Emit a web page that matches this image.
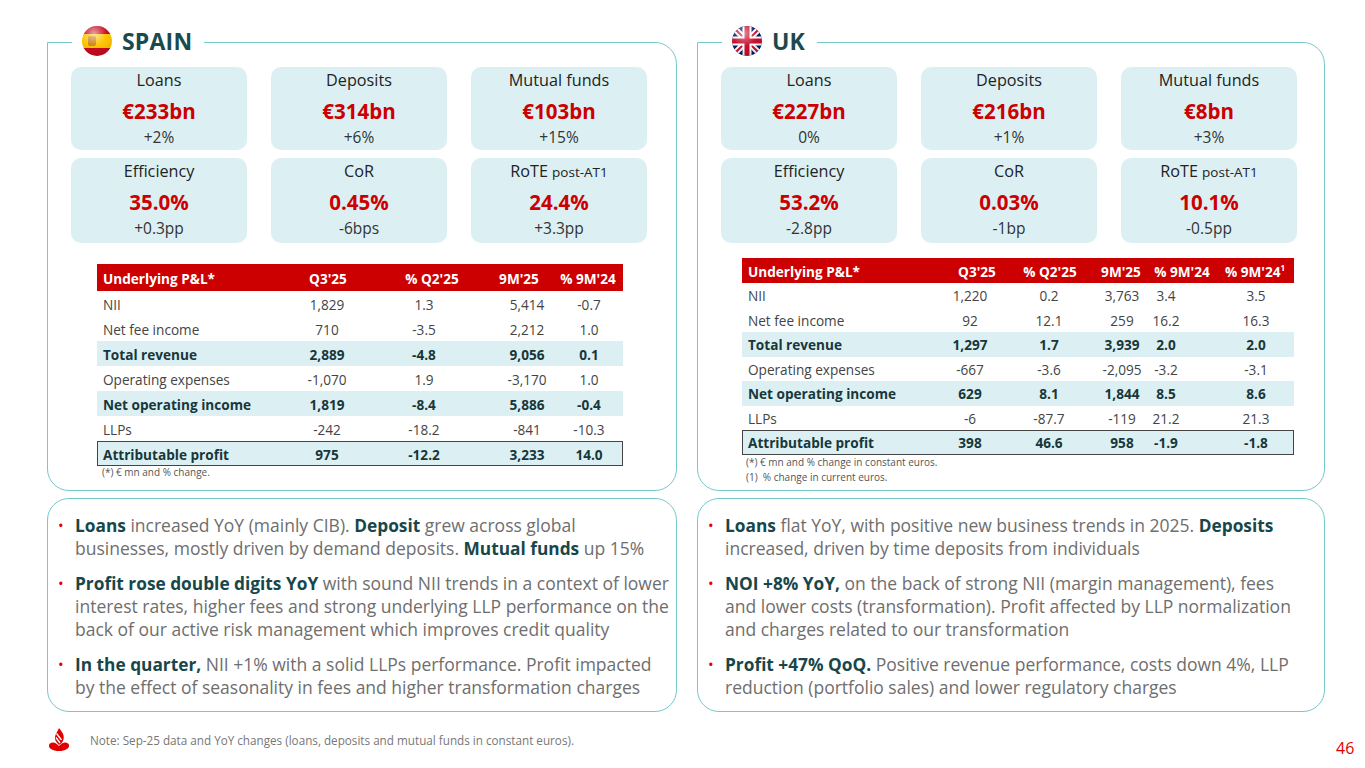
<!DOCTYPE html>
<html>
<head>
<meta charset="utf-8">
<script src="https://cdn.jsdelivr.net/npm/chart.js@4"></script>
<style>
  html, body { margin: 0; padding: 0; background: #fff; }
  body { width: 1365px; height: 768px; position: relative; overflow: hidden;
         font-family: "Open Sans", "Noto Sans", sans-serif; color: #222; }
  .abs { position: absolute; }
  .panel { position: absolute; border: 1.5px solid #74c9cc; box-sizing: border-box; }
  .title { position: absolute; background: #fff; height: 36px; display: flex; align-items: center;
           font-weight: 700; font-size: 23px; color: #1b4a4c; letter-spacing: 0.2px; }
  .flag { width: 30px; height: 30px; border-radius: 50%; margin: 0 10px 0 10px; position: relative; overflow: hidden; }
  .tile { position: absolute; background: #dcf0f3; border-radius: 10px; text-align: center; }
  .tile .lab { position: absolute; left: 0; right: 0; font-size: 16.2px; color: #222; }
  .tile .lab small { font-size: 13.5px; }
  .tile .val { position: absolute; left: 0; right: 0; font-size: 20.5px; font-weight: 700; color: #cc0000; }
  .tile .chg { position: absolute; left: 0; right: 0; font-size: 15.5px; color: #333; }
  .cell { position: absolute; font-size: 13.6px; white-space: nowrap; transform: translate(-50%, -50%); color: #333; }
  .cell.left { transform: translate(0, -50%); }
  .bullets { position: absolute; font-size: 17.5px; line-height: 23px; color: #6e6e6e; }
  .bullets p { margin: 0 0 12px 0; position: relative; padding-left: 17px; white-space: nowrap; }
  .bullets p::before { content: "•"; color: #e00000; position: absolute; left: 0; top: 0; font-size: 15px; }
  .bullets b { color: #17474a; font-weight: 700; font-size: 17.3px; }
  .foot { position: absolute; font-size: 10px; color: #555; }
</style>
</head>
<body>
<script>
// KPI tiles
const kpiLabels = ['Loans', 'Deposits', 'Mutual funds', 'Efficiency', 'CoR', 'RoTE <small>post-AT1</small>'];
const spainKpiValues = ['€233bn', '€314bn', '€103bn', '35.0%', '0.45%', '24.4%'];
const spainKpiChanges = ['+2%', '+6%', '+15%', '+0.3pp', '-6bps', '+3.3pp'];
const ukKpiValues = ['€227bn', '€216bn', '€8bn', '53.2%', '0.03%', '10.1%'];
const ukKpiChanges = ['0%', '+1%', '+3%', '-2.8pp', '-1bp', '-0.5pp'];

// P&L tables (€ mn, % change)
const plRows = ['NII', 'Net fee income', 'Total revenue', 'Operating expenses', 'Net operating income', 'LLPs', 'Attributable profit'];
const boldRows = [2, 4, 6];
const spainHeaders = ['Underlying P&L*', "Q3'25", "% Q2'25", "9M'25", "% 9M'24"];
const spainQ3 = [1829, 710, 2889, -1070, 1819, -242, 975];
const spainQoQ = [1.3, -3.5, -4.8, 1.9, -8.4, -18.2, -12.2];
const spain9M = [5414, 2212, 9056, -3170, 5886, -841, 3233];
const spainYoY = [-0.7, 1.0, 0.1, 1.0, -0.4, -10.3, 14.0];
const ukHeaders = ['Underlying P&L*', "Q3'25", "% Q2'25", "9M'25", "% 9M'24", "% 9M'24<sup style=\"font-size:8px\">1</sup>"];
const ukQ3 = [1220, 92, 1297, -667, 629, -6, 398];
const ukQoQ = [0.2, 12.1, 1.7, -3.6, 8.1, -87.7, 46.6];
const uk9M = [3763, 259, 3939, -2095, 1844, -119, 958];
const ukYoY = [3.4, 16.2, 2.0, -3.2, 8.5, 21.2, -1.9];
const ukYoYCur = [3.5, 16.3, 2.0, -3.1, 8.6, 21.3, -1.8];

// commentary
const spainBullets = [
  '<b>Loans</b> increased YoY (mainly CIB). <b>Deposit</b> grew across global<br>businesses, mostly driven by demand deposits. <b>Mutual funds</b> up 15%',
  '<b>Profit rose double digits YoY</b> with sound NII trends in a context of lower<br>interest rates, higher fees and strong underlying LLP performance on the<br>back of our active risk management which improves credit quality',
  '<b>In the quarter,</b> NII +1% with a solid LLPs performance. Profit impacted<br>by the effect of seasonality in fees and higher transformation charges'
];
const ukBullets = [
  '<b>Loans</b> flat YoY, with positive new business trends in 2025. <b>Deposits</b><br>increased, driven by time deposits from individuals',
  '<b>NOI +8% YoY,</b> on the back of strong NII (margin management), fees<br>and lower costs (transformation). Profit affected by LLP normalization<br>and charges related to our transformation',
  '<b>Profit +47% QoQ.</b> Positive revenue performance, costs down 4%, LLP<br>reduction (portfolio sales) and lower regulatory charges'
];

const fmtInt = v => v.toLocaleString('en-US');
const fmtPct = v => v.toFixed(1);

function el(cls, css, html) {
  const d = document.createElement('div');
  d.className = cls;
  Object.assign(d.style, css);
  if (html !== undefined) d.innerHTML = html;
  document.body.appendChild(d);
  return d;
}

function panel(x, y, w, h, radius) {
  el('panel', { left: x + 'px', top: y + 'px', width: w + 'px', height: h + 'px', borderRadius: radius });
}

function title(x, text, flagHtml) {
  const t = el('title', { left: x + 'px', top: '23px' });
  t.innerHTML = flagHtml + '<span style="padding-right:12px">' + text + '</span>';
}

const spainFlag = '<div class="flag" style="background:linear-gradient(#c60b1e 0 27%, #ffc400 27% 73%, #c60b1e 73%);">' +
  '<div style="position:absolute;left:6px;top:10px;width:8px;height:10px;background:#b5651d;opacity:.7;border-radius:2px"></div>' +
  '<div style="position:absolute;inset:0;border-radius:50%;background:radial-gradient(circle at 40% 25%, rgba(255,255,255,.6), rgba(255,255,255,0) 45%, rgba(0,0,0,.15) 100%)"></div></div>';
const ukFlag = '<div class="flag"><svg width="30" height="30" viewBox="0 0 60 60">' +
  '<rect width="60" height="60" fill="#012169"/>' +
  '<path d="M0,0 L60,60 M60,0 L0,60" stroke="#fff" stroke-width="12"/>' +
  '<path d="M0,0 L60,60 M60,0 L0,60" stroke="#C8102E" stroke-width="4"/>' +
  '<path d="M30,0 V60 M0,30 H60" stroke="#fff" stroke-width="18"/>' +
  '<path d="M30,0 V60 M0,30 H60" stroke="#C8102E" stroke-width="10"/></svg>' +
  '<div style="position:absolute;inset:0;border-radius:50%;background:radial-gradient(circle at 40% 25%, rgba(255,255,255,.5), rgba(255,255,255,0) 45%, rgba(0,0,0,.2) 100%)"></div></div>';

function tiles(x0, values, changes) {
  const xs = [x0, x0 + 200, x0 + 400];
  const rows = [{ y: 67, h: 83 }, { y: 158, h: 85 }];
  for (let i = 0; i < 6; i++) {
    const r = rows[Math.floor(i / 3)];
    const t = el('tile', { left: xs[i % 3] + 'px', top: r.y + 'px', width: '176px', height: r.h + 'px' });
    t.innerHTML = '<div class="lab" style="top:2px">' + kpiLabels[i] + '</div>' +
      '<div class="val" style="top:30px">' + values[i] + '</div>' +
      '<div class="chg" style="top:59px">' + changes[i] + '</div>';
  }
}

function table(cfg) {
  const { left, width, top, headH, rowH, headers, headCenters, valCenters, cols } = cfg;
  el('abs', { left: left + 'px', top: top + 'px', width: width + 'px', height: headH + 'px', background: '#cc0000' });
  headers.forEach((h, j) => {
    el('cell' + (j === 0 ? ' left' : ''), {
      left: (j === 0 ? left + 6 : headCenters[j - 1]) + 'px', top: (top + headH / 2) + 'px',
      color: '#fff', fontWeight: 700
    }, h);
  });
  plRows.forEach((name, i) => {
    const y0 = top + headH + i * rowH;
    const bold = boldRows.includes(i);
    if (bold) {
      el('abs', { left: left + 'px', top: y0 + 'px', width: width + 'px', height: rowH + 'px', background: '#dcf0f3',
        boxSizing: 'border-box', border: i === 6 ? '1.2px solid #444' : 'none' });
    }
    const cy = y0 + rowH / 2;
    el('cell left', { left: (left + 6) + 'px', top: cy + 'px', fontWeight: bold ? 700 : 400, color: bold ? '#17373a' : '#444' }, name);
    cols.forEach((col, j) => {
      el('cell', { left: valCenters[j] + 'px', top: cy + 'px', fontWeight: bold ? 700 : 400, color: bold ? '#17373a' : '#444' },
        col.fmt(col.data[i]));
    });
  });
}

// frames
panel(47, 42, 630, 449, '0 22px 22px 22px');
panel(697, 42, 628, 449, '0 22px 22px 22px');
panel(47, 498, 630, 214, '22px');
panel(697, 498, 628, 214, '22px');
title(72, 'SPAIN', spainFlag);
title(722, 'UK', ukFlag);

tiles(71, spainKpiValues, spainKpiChanges);
tiles(721, ukKpiValues, ukKpiChanges);

table({
  left: 97, width: 526, top: 264, headH: 27, rowH: 25,
  headers: spainHeaders,
  headCenters: [328, 432, 519, 588],
  valCenters: [327, 424, 527, 589],
  cols: [
    { data: spainQ3, fmt: fmtInt }, { data: spainQoQ, fmt: fmtPct },
    { data: spain9M, fmt: fmtInt }, { data: spainYoY, fmt: fmtPct }
  ]
});
el('foot', { left: '102px', top: '465px' }, '(*) € mn and % change.');

table({
  left: 742, width: 552, top: 258, headH: 25, rowH: 24.5,
  headers: ukHeaders,
  headCenters: [977, 1050, 1121, 1182, 1255],
  valCenters: [970, 1049, 1122, 1166, 1256],
  cols: [
    { data: ukQ3, fmt: fmtInt }, { data: ukQoQ, fmt: fmtPct }, { data: uk9M, fmt: fmtInt },
    { data: ukYoY, fmt: fmtPct }, { data: ukYoYCur, fmt: fmtPct }
  ]
});
el('foot', { left: '746px', top: '455px' }, '(*) € mn and % change in constant euros.');
el('foot', { left: '746px', top: '470px' }, '(1)&nbsp; % change in current euros.');

el('bullets', { left: '58px', top: '514px', width: '615px' }, spainBullets.map(b => '<p>' + b + '</p>').join(''));
el('bullets', { left: '708px', top: '514px', width: '615px' }, ukBullets.map(b => '<p>' + b + '</p>').join(''));

// footer
el('abs', { left: '48px', top: '727px' },
  '<svg width="22" height="26" viewBox="0 0 22 26">' +
  '<path d="M11 1 C15 6 17 9 15 14 C14 16 12.5 17 11 18 C8 15 6 12 7.5 8 C8.5 5.5 10 3.5 11 1Z" fill="#e00000"/>' +
  '<path d="M8.5 6.5 L13.5 13 M8 10.5 L12 16" stroke="#fff" stroke-width="1.3"/>' +
  '<path d="M1.5 17 C4 14.5 7 15 11 19 C15 15 18 14.5 20.5 17 C22.5 20 19 24 11 24 C3 24 -0.5 20 1.5 17Z" fill="#e00000"/></svg>');
el('abs', { left: '90px', top: '732px', fontSize: '11.7px', color: '#777' },
  'Note: Sep-25 data and YoY changes (loans, deposits and mutual funds in constant euros).');
el('abs', { left: '1336px', top: '737px', fontSize: '16px', color: '#e00000' }, '46');
</script>
</body>
</html>
